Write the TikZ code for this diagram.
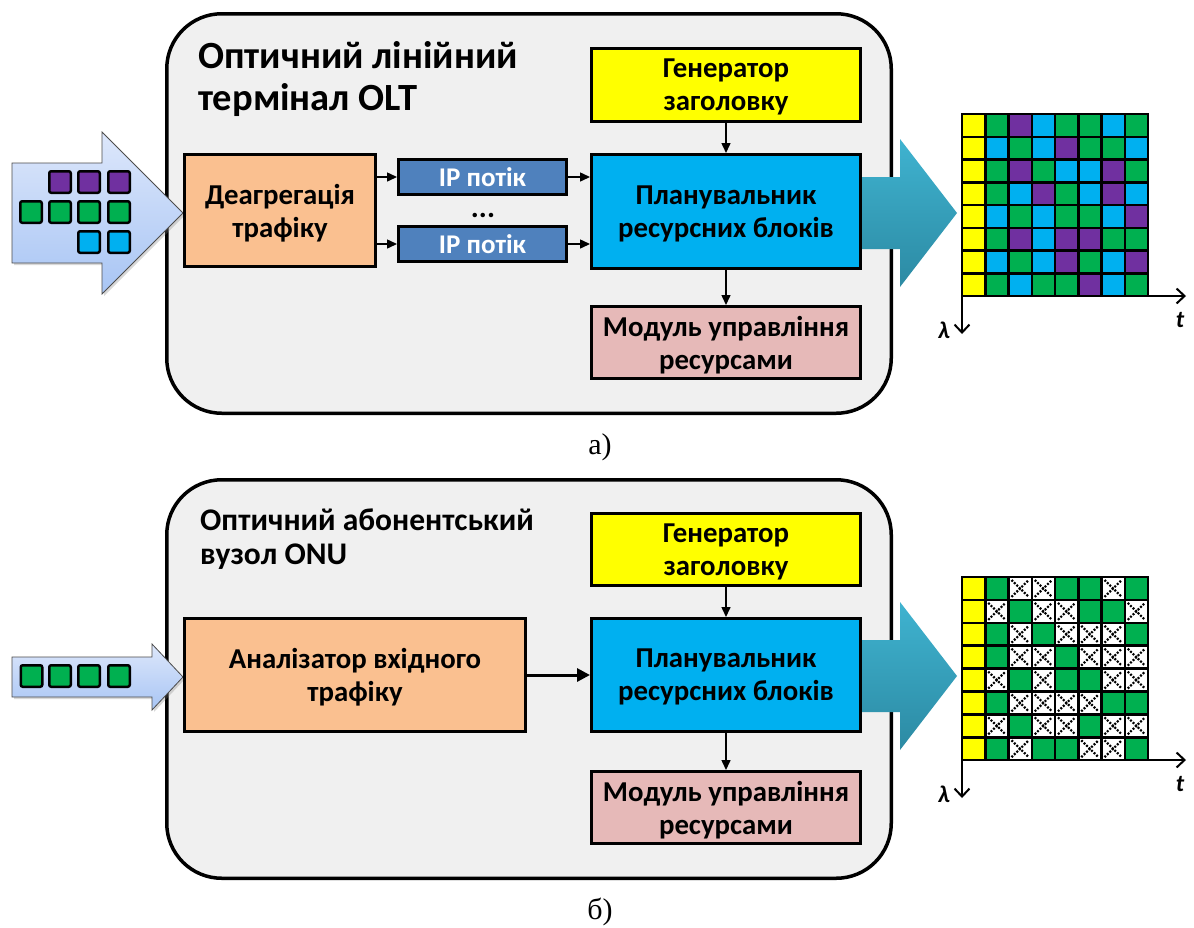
\documentclass[tikz,border=0pt]{standalone}
\usepackage{fontspec}
\setmainfont{Carlito}
\newfontfamily\capfont{Liberation Serif}
\usetikzlibrary{arrows.meta,shadows}
\definecolor{cY}{HTML}{FFFF00}
\definecolor{cG}{HTML}{00B050}
\definecolor{cP}{HTML}{7030A0}
\definecolor{cB}{HTML}{00B0F0}
\definecolor{panelgray}{HTML}{F0F0F0}
\definecolor{orangebox}{HTML}{FAC090}
\definecolor{ipblue}{HTML}{4F81BD}
\definecolor{pinkbox}{HTML}{E6B9B8}
\definecolor{inarrowtop}{HTML}{DDE7FB}
\definecolor{inarrowbot}{HTML}{A8C5F4}
\definecolor{tealtop}{HTML}{3FB3D0}
\definecolor{tealbot}{HTML}{2C8AA3}
\tikzset{
  panel/.style={draw, line width=3.5pt, fill=panelgray, rounded corners=55pt, inner sep=0pt},
  blk/.style={draw, line width=3pt, align=center, inner sep=0pt, text depth=0pt,
    font=\fontsize{28.8}{33}\selectfont\bfseries},
  ipbox/.style={draw, line width=3pt, fill=ipblue, text=white, inner sep=0pt,
    minimum width=168pt, minimum height=35pt, font=\fontsize{27}{30}\selectfont\bfseries},
  titlefont/.style={font=\fontsize{38.5}{42}\selectfont\bfseries, anchor=base west, inner sep=0pt},
  titlefontb/.style={font=\fontsize{31.5}{35}\selectfont\bfseries, anchor=base west, inner sep=0pt},
  thinarrow/.style={line width=1.5pt, -{Triangle[length=10pt,width=9pt]}},
  thickarrow/.style={line width=3pt, -{Triangle[length=13pt,width=13pt]}},
  axisarrow/.style={line width=2pt, -{Straight Barb[length=8pt,width=15pt]}},
  inarrow/.style={draw=black!70, line width=0.8pt, top color=inarrowtop, bottom color=inarrowbot,
    drop shadow={opacity=0.3, shadow xshift=2pt, shadow yshift=-2pt}},
  bigarrow/.style={top color=tealtop, bottom color=tealbot},
  sq/.style={draw, line width=2.5pt, rounded corners=2pt},
  cellY/.style={fill=cY}, cellG/.style={fill=cG}, cellP/.style={fill=cP}, cellB/.style={fill=cB},
  cellX/.style={fill=white, path picture={
    \draw[line width=2.2pt, dash pattern=on 2pt off 1.5pt]
      ([shift={(3pt,3pt)}]path picture bounding box.south west) -- ([shift={(-3pt,-3pt)}]path picture bounding box.north east)
      ([shift={(3pt,-3pt)}]path picture bounding box.north west) -- ([shift={(-3pt,3pt)}]path picture bounding box.south east);}},
  axlabel/.style={font=\fontsize{24}{26}\selectfont\bfseries\itshape, inner sep=0pt},
  caption/.style={font=\capfont\fontsize{30}{34}\selectfont, inner sep=0pt}
}
\begin{document}
\begin{tikzpicture}[x=1pt, y=-1pt]
\useasboundingbox (0,0) rectangle (1194,927);
\fill[white] (0,0) rectangle (1194,927);

% ================= panel a =================
\node[panel, minimum width=724.5pt, minimum height=399.5pt] (pA) at (529,213.5) {};
\node[titlefont] (tA1) at (198,68) {Оптичний лінійний};
\node[titlefont] (tA2) at (198,110) {термінал OLT};

% input arrow
\path[inarrow] (12,163) -- (102,163) -- (102,132) -- (183,213) -- (102,294) -- (102,263) -- (12,263) -- cycle;
\foreach \x in {60,89,119} \draw[sq, fill=cP] (\x-10.75,182-10.75) rectangle ++(21.5,21.5);
\foreach \x in {31,60,89,119} \draw[sq, fill=cG] (\x-10.75,212-10.75) rectangle ++(21.5,21.5);
\foreach \x in {89,119} \draw[sq, fill=cB] (\x-10.75,242-10.75) rectangle ++(21.5,21.5);

% output arrow
\path[bigarrow] (860,177) -- (900,177) -- (900,139) -- (957,213) -- (900,287) -- (900,249) -- (860,249) -- cycle;

\node[blk, fill=cY, minimum width=269pt, minimum height=73pt] (genA) at (726,85) {Генератор\\заголовку};
\node[blk, fill=cB, minimum width=269pt, minimum height=114pt] (schA) at (726,211.5) {Планувальник\\ресурсних блоків};
\node[blk, fill=pinkbox, minimum width=269pt, minimum height=72pt] (modA) at (726,342.5) {Модуль управління\\ресурсами};
\node[blk, fill=orangebox, minimum width=191pt, minimum height=112pt] (deaA) at (280,210.5) {Деагрегація\\трафіку};
\node[ipbox] (ip1) at (482.5,177) {IP потік};
\node[ipbox] (ip2) at (482.5,244) {IP потік};
\node[font=\fontsize{30}{32}\selectfont\bfseries, inner sep=0pt, anchor=base] (dotsA) at (483,217) {...};

\draw[thinarrow] (deaA.east |- ip1) -- (ip1.west);
\draw[thinarrow] (deaA.east |- ip2) -- (ip2.west);
\draw[thinarrow] (ip1.east) -- (schA.west |- ip1);
\draw[thinarrow] (ip2.east) -- (schA.west |- ip2);
\draw[thinarrow] (genA) -- (schA);
\draw[thinarrow] (schA) -- (modA);

% grid a
\foreach \row [count=\r] in {{Y,G,P,B,G,G,B,G},{Y,B,G,B,P,G,G,B},{Y,G,P,G,B,B,P,G},{Y,G,B,P,G,B,P,B},{Y,B,G,B,G,G,B,P},{Y,G,P,B,P,P,G,G},{Y,B,G,B,P,G,B,P},{Y,G,B,G,G,P,B,G}} {
  \foreach \c [count=\k] in \row {
    \draw[line width=2.5pt, cell\c] ({962+(\k-1)*23.25},{114+(\r-1)*22.75}) rectangle ++(23.25,22.75);
  }
}
\coordinate (oA) at (962,296);
\coordinate (tAx) at (1186,296);
\coordinate (lAx) at (962,334);
\draw[axisarrow] (oA) -- (tAx);
\draw[axisarrow] (oA) -- (lAx);
\node[axlabel] (tlabA) at (1180,320) {t};
\node[axlabel] (llabA) at (944,330) {λ};

\node[caption] (capA) at (600,447) {а)};

% ================= panel b =================
\node[panel, minimum width=724.5pt, minimum height=398.5pt] (pB) at (529,679) {};
\node[titlefontb] (tB1) at (200,530) {Оптичний абонентський};
\node[titlefontb] (tB2) at (200,564) {вузол ONU};

\path[inarrow] (12,657) -- (152,657) -- (152,644) -- (183,677) -- (152,710) -- (152,697) -- (12,697) -- cycle;
\foreach \x in {31.5,60,89,119} \draw[sq, fill=cG] (\x-10.75,676-10.75) rectangle ++(21.5,21.5);

\path[bigarrow] (860,640) -- (900,640) -- (900,602) -- (957,676) -- (900,750) -- (900,712) -- (860,712) -- cycle;

\node[blk, fill=cY, minimum width=269pt, minimum height=72pt] (genB) at (726,549.5) {Генератор\\заголовку};
\node[blk, fill=cB, minimum width=269pt, minimum height=113pt] (schB) at (726,675) {Планувальник\\ресурсних блоків};
\node[blk, fill=pinkbox, minimum width=269pt, minimum height=72pt] (modB) at (726,807.5) {Модуль управління\\ресурсами};
\node[blk, fill=orangebox, minimum width=341pt, minimum height=113pt] (anaB) at (355,675) {Аналізатор вхідного\\трафіку};

\draw[thickarrow] (anaB) -- (schB);
\draw[thinarrow] (genB) -- (schB);
\draw[thinarrow] (schB) -- (modB);

\foreach \row [count=\r] in {{Y,G,X,X,G,G,X,G},{Y,X,G,X,X,G,G,X},{Y,G,X,G,X,X,X,G},{Y,G,X,X,G,X,X,X},{Y,X,G,X,G,G,X,X},{Y,G,X,X,X,X,G,G},{Y,X,G,X,X,G,X,X},{Y,G,X,G,G,X,X,G}} {
  \foreach \c [count=\k] in \row {
    \draw[line width=2.5pt, cell\c] ({962+(\k-1)*23.25},{577+(\r-1)*22.9}) rectangle ++(23.25,22.9);
  }
}
\coordinate (oB) at (962,760);
\coordinate (tBx) at (1186,760);
\coordinate (lBx) at (962,798);
\draw[axisarrow] (oB) -- (tBx);
\draw[axisarrow] (oB) -- (lBx);
\node[axlabel] (tlabB) at (1180,784) {t};
\node[axlabel] (llabB) at (944,794) {λ};

\node[caption] (capB) at (600,912) {б)};
\end{tikzpicture}
\end{document}
